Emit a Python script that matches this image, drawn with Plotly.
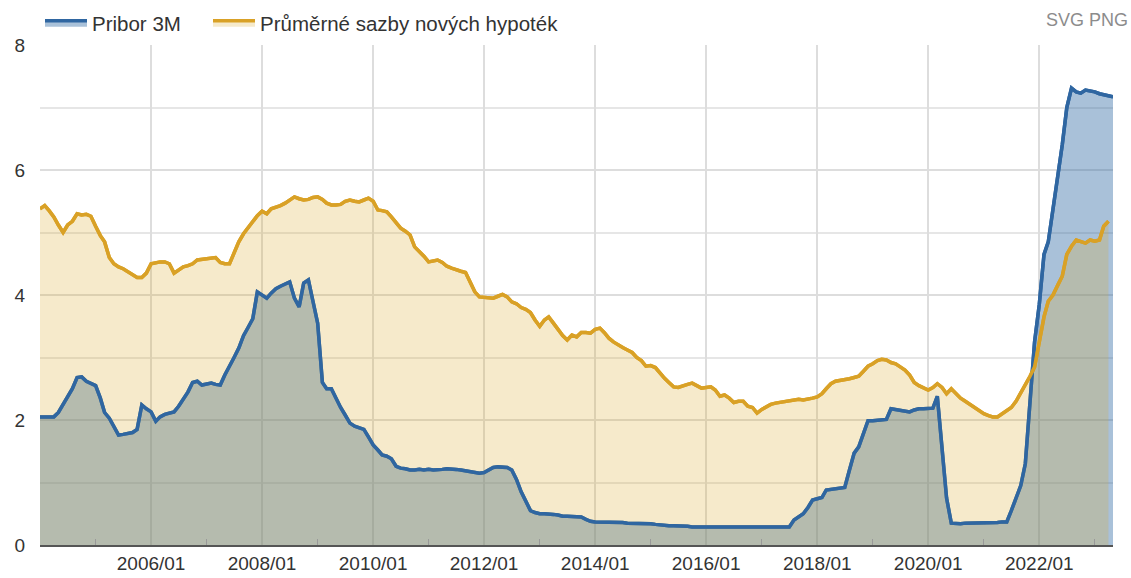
import logging
import pandas as pd
import plotly.graph_objects as go

# Monthly data, starting 2004/01
START_MONTH = "2004-01-01"

PRIBOR_3M = [
    2.05, 2.05, 2.04, 2.05, 2.12, 2.25, 2.37, 2.50, 2.68, 2.69, 2.62, 2.58,  # 2004
    2.55, 2.35, 2.12, 2.03, 1.90, 1.76, 1.77, 1.79, 1.80, 1.85, 2.24, 2.18,  # 2005
    2.13, 1.98, 2.05, 2.09, 2.11, 2.13, 2.22, 2.34, 2.45, 2.60, 2.62, 2.56,  # 2006
    2.58, 2.59, 2.57, 2.56, 2.72, 2.85, 3.00, 3.15, 3.35, 3.48, 3.62, 4.05,  # 2007
    4.00, 3.95, 4.03, 4.10, 4.14, 4.18, 4.21, 3.95, 3.81, 4.19, 4.24, 3.90,  # 2008
    3.55, 2.60, 2.50, 2.50, 2.35, 2.20, 2.08, 1.95, 1.90, 1.88, 1.85, 1.73,  # 2009
    1.60, 1.52, 1.44, 1.42, 1.38, 1.26, 1.23, 1.22, 1.20, 1.20, 1.21, 1.20,  # 2010
    1.21, 1.20, 1.20, 1.21, 1.22, 1.22, 1.21, 1.20, 1.19, 1.18, 1.16, 1.15,  # 2011
    1.16, 1.20, 1.24, 1.25, 1.25, 1.24, 1.20, 1.05, 0.85, 0.70, 0.55, 0.52,  # 2012
    0.50, 0.50, 0.50, 0.49, 0.48, 0.46, 0.46, 0.46, 0.46, 0.45, 0.41, 0.38,  # 2013
    0.37, 0.37, 0.37, 0.36, 0.36, 0.36, 0.36, 0.35, 0.35, 0.35, 0.35, 0.35,  # 2014
    0.34, 0.33, 0.32, 0.31, 0.31, 0.31, 0.31, 0.31, 0.30, 0.29, 0.29, 0.29,  # 2015
    0.29, 0.29, 0.29, 0.29, 0.29, 0.29, 0.29, 0.29, 0.29, 0.29, 0.29, 0.29,  # 2016
    0.28, 0.28, 0.28, 0.28, 0.29, 0.29, 0.29, 0.40, 0.45, 0.50, 0.60, 0.72,  # 2017
    0.74, 0.76, 0.88, 0.89, 0.90, 0.90, 0.92, 1.20, 1.47, 1.57, 1.80, 1.99,  # 2018
    1.99, 2.00, 2.00, 2.01, 2.18, 2.17, 2.15, 2.14, 2.13, 2.16, 2.18, 2.18,  # 2019
    2.19, 2.19, 2.38, 1.55, 0.75, 0.35, 0.34, 0.34, 0.35, 0.35, 0.35, 0.35,  # 2020
    0.35, 0.36, 0.36, 0.36, 0.37, 0.37, 0.55, 0.75, 0.95, 1.30, 2.30, 3.25,  # 2021
    3.85, 4.65, 4.85, 5.35, 5.90, 6.40, 7.00, 7.31, 7.25, 7.23, 7.28, 7.27,  # 2022
    7.25, 7.22, 7.20, 7.18, 7.17,                                            # 2023
]

MORTGAGE_RATES = [
    5.38, 5.43, 5.35, 5.25, 5.12, 5.00, 5.12, 5.18, 5.30, 5.28, 5.29, 5.26,  # 2004
    5.10, 4.95, 4.85, 4.60, 4.50, 4.45, 4.42, 4.37, 4.33, 4.28, 4.28, 4.35,  # 2005
    4.50, 4.52, 4.53, 4.53, 4.50, 4.35, 4.40, 4.45, 4.47, 4.50, 4.56, 4.57,  # 2006
    4.58, 4.59, 4.60, 4.52, 4.50, 4.50, 4.68, 4.85, 4.98, 5.08, 5.18, 5.27,  # 2007
    5.34, 5.30, 5.38, 5.40, 5.43, 5.47, 5.52, 5.57, 5.54, 5.52, 5.53, 5.56,  # 2008
    5.57, 5.53, 5.47, 5.44, 5.44, 5.45, 5.50, 5.52, 5.50, 5.49, 5.52, 5.55,  # 2009
    5.50, 5.36, 5.35, 5.33, 5.25, 5.15, 5.07, 5.02, 4.96, 4.77, 4.70, 4.62,  # 2010
    4.53, 4.55, 4.56, 4.52, 4.46, 4.43, 4.40, 4.38, 4.36, 4.20, 4.05, 3.97,  # 2011
    3.96, 3.96, 3.95, 3.98, 4.01, 3.97, 3.89, 3.86, 3.80, 3.77, 3.72, 3.60,  # 2012
    3.50, 3.60, 3.65, 3.55, 3.45, 3.35, 3.28, 3.36, 3.33, 3.40, 3.40, 3.39,  # 2013
    3.45, 3.47, 3.40, 3.31, 3.25, 3.20, 3.16, 3.12, 3.08, 3.00, 2.95, 2.86,  # 2014
    2.87, 2.84, 2.75, 2.67, 2.60, 2.53, 2.52, 2.55, 2.57, 2.59, 2.55, 2.51,  # 2015
    2.52, 2.53, 2.48, 2.38, 2.40, 2.35, 2.28, 2.30, 2.30, 2.22, 2.20, 2.11,  # 2016
    2.17, 2.22, 2.25, 2.27, 2.28, 2.30, 2.31, 2.32, 2.33, 2.32, 2.33, 2.35,  # 2017
    2.37, 2.42, 2.50, 2.58, 2.62, 2.63, 2.64, 2.66, 2.68, 2.70, 2.78, 2.86,  # 2018
    2.90, 2.95, 2.97, 2.96, 2.92, 2.90, 2.85, 2.80, 2.72, 2.60, 2.55, 2.52,  # 2019
    2.48, 2.52, 2.58, 2.52, 2.42, 2.50, 2.42, 2.35, 2.30, 2.25, 2.20, 2.15,  # 2020
    2.10, 2.07, 2.05, 2.05, 2.10, 2.15, 2.20, 2.30, 2.43, 2.55, 2.70, 2.85,  # 2021
    3.25, 3.65, 3.90, 4.00, 4.15, 4.30, 4.65, 4.78, 4.88, 4.85, 4.83, 4.88,  # 2022
    4.86, 4.88, 5.10, 5.18,                                                  # 2023
]

SERIES_NAMES = ["Pribor 3M", "Průměrné sazby nových hypoték"]
X_TICKS = [f"{y}-01-01" for y in range(2006, 2023, 2)]
Y_TICKS = [0, 2, 4, 6, 8]

BLUE = "#2f66a1"
BLUE_FILL = "rgba(47,104,163,0.41)"
GOLD = "#d9a126"
GOLD_FILL = "rgba(220,172,48,0.25)"
FONT = "Liberation Sans, Arial, sans-serif"
FIG_W, FIG_H = 1131, 578
MARGIN = dict(l=40, r=18, t=45, b=33)


def month_axis(values):
    """Monthly dates for a series."""
    return pd.date_range(START_MONTH, periods=len(values), freq="MS")


def legend_box(left_px):
    """One horizontal legend box, positioned from a pixel offset in the top strip."""
    plot_w = FIG_W - MARGIN["l"] - MARGIN["r"]
    plot_h = FIG_H - MARGIN["t"] - MARGIN["b"]
    return dict(orientation="h",
                x=max(0.0, (left_px - MARGIN["l"]) / plot_w), xanchor="left",
                y=(FIG_H - MARGIN["b"] - 23) / plot_h, yanchor="middle",
                itemwidth=42, font=dict(size=20.5, color="#333333"),
                bgcolor="rgba(0,0,0,0)", itemclick=False)


def create_plot():
    fig = go.Figure()

    # area traces (these carry the legend entries)
    fig.add_trace(go.Scatter(
        x=month_axis(PRIBOR_3M), y=PRIBOR_3M, name=SERIES_NAMES[0],
        mode="lines", fill="tozeroy", fillcolor=BLUE_FILL,
        line=dict(color=BLUE, width=3.5), legend="legend",
    ))
    fig.add_trace(go.Scatter(
        x=month_axis(MORTGAGE_RATES), y=MORTGAGE_RATES, name=SERIES_NAMES[1],
        mode="lines", fill="tozeroy", fillcolor=GOLD_FILL,
        line=dict(color=GOLD, width=3.5), legend="legend2",
    ))
    # redraw the lines above both fills
    fig.add_trace(go.Scatter(
        x=month_axis(PRIBOR_3M), y=PRIBOR_3M, mode="lines", showlegend=False,
        line=dict(color=BLUE, width=3.5), hoverinfo="skip",
    ))
    fig.add_trace(go.Scatter(
        x=month_axis(MORTGAGE_RATES), y=MORTGAGE_RATES, mode="lines", showlegend=False,
        line=dict(color=GOLD, width=3.5), hoverinfo="skip",
    ))

    fig.update_layout(
        width=FIG_W, height=FIG_H,
        margin=dict(**MARGIN, autoexpand=False),
        paper_bgcolor="white", plot_bgcolor="white",
        font=dict(family=FONT, size=20, color="#333333"),
        legend=legend_box(36),
        legend2=legend_box(208),
        annotations=[dict(text="SVG PNG", xref="paper", yref="paper", x=1.0, y=1.05,
                          xanchor="right", yanchor="middle", xshift=17, showarrow=False,
                          font=dict(size=18, color="#8c8c8c"))],
        showlegend=True,
    )
    fig.update_xaxes(
        type="date", range=[START_MONTH, "2023-05-01"],
        tickmode="array", tickvals=X_TICKS, tickformat="%Y/%m",
        showgrid=True, gridcolor="#dddddd", gridwidth=1.5,
        showline=True, linecolor="#555555", linewidth=2,
        ticks="", tickfont=dict(size=19, color="#333333"),
        minor=dict(tickmode="linear", tick0="2005-01-01", dtick="M24",
                   ticks="inside", ticklen=6, tickcolor="#999999", showgrid=False),
        zeroline=False,
    )
    fig.update_yaxes(
        range=[0, 8], tickmode="array", tickvals=Y_TICKS,
        showgrid=True, gridcolor="#dddddd", gridwidth=1.5,
        minor=dict(tickmode="linear", tick0=1, dtick=2, showgrid=True,
                   gridcolor="#e6e6e6", gridwidth=1.5),
        ticks="", ticklabelstandoff=14, tickfont=dict(size=19, color="#333333"),
        zeroline=False, showline=False,
    )
    return fig


def generate_plot():
    logging.basicConfig(level=logging.INFO, format="%(asctime)s - %(levelname)s - %(message)s")
    logging.info(f"Pribor points: {len(PRIBOR_3M)}, mortgage points: {len(MORTGAGE_RATES)}")
    fig = create_plot()
    fig.write_html("out.html", config={"displayModeBar": False},
                   post_script="document.body.style.margin='0';")
    logging.info("Plot written to out.html")


if __name__ == "__main__":
    generate_plot()
